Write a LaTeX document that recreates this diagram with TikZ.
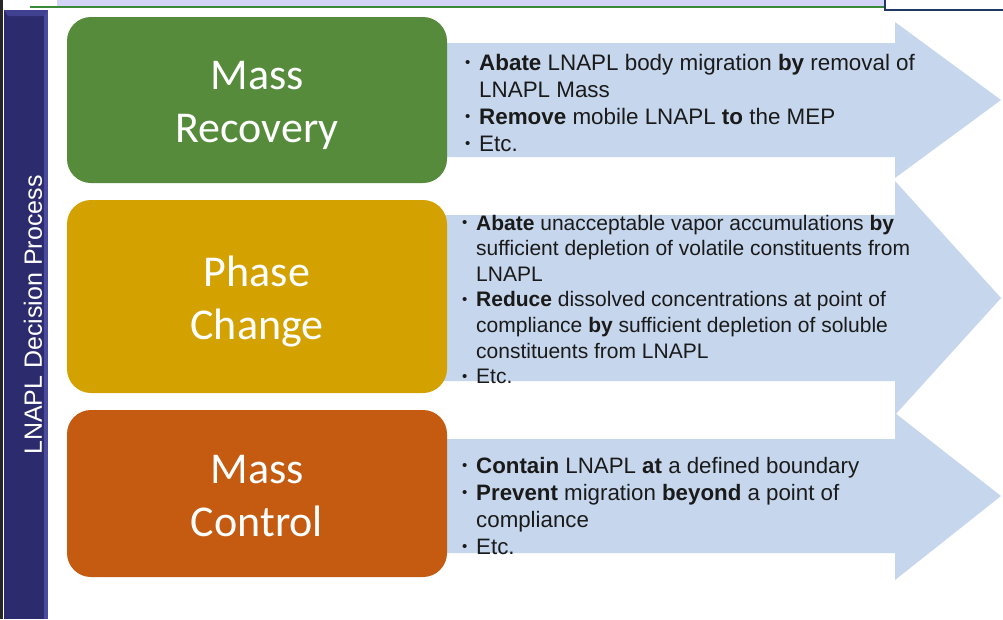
\documentclass[tikz,border=0pt]{standalone}
\usepackage{fontspec}
\setmainfont{Liberation Sans}
\newfontfamily\boxfont{Carlito}
\definecolor{navybar}{HTML}{2B2B6E}
\definecolor{navyedge}{HTML}{4A4AA0}
\definecolor{recgreen}{HTML}{558B3A}
\definecolor{phgold}{HTML}{D4A200}
\definecolor{ctorange}{HTML}{C55A11}
\definecolor{arrblue}{HTML}{C6D6EC}
\definecolor{lavtop}{HTML}{D4D4F8}
\definecolor{topgreen}{HTML}{3A8A3A}
\definecolor{boxnavy}{HTML}{1F3864}
\definecolor{bultext}{HTML}{1A1A1A}
\newcommand\bul{\makebox[14pt][l]{\raisebox{0.2ex}{\fontsize{15}{15}\selectfont\textbullet}}}
\newcommand\ind{\hspace*{14pt}}
\tikzset{
  stage/.style={rounded corners=24pt, minimum width=380pt, inner sep=0pt},
  stagetext/.style={inner sep=0pt, text=white, font=\boxfont\fontsize{44}{53}\selectfont, align=center},
  bullets/.style={anchor=base west, inner sep=0pt, text=bultext},
  arrowshape/.style={fill=arrblue}
}
\begin{document}
\begin{tikzpicture}[x=1pt,y=-1pt]
\useasboundingbox (0,0) rectangle (1003,619);
\fill[white] (0,0) rectangle (1003,619);
% top decoration
\fill[lavtop] (57,0) rectangle (885,5.5);
\draw[topgreen, line width=2pt] (30,7) -- (885,7);
\draw[boxnavy, line width=1.6pt, fill=white] (885,-5) -- (885,10) -- (1010,10) -- (1010,-5) -- cycle;
% left bar
\fill[black!85] (0,0) rectangle (2.5,619);
\fill[navybar] (4,10) rectangle (48,619);
\fill[navyedge] (44,10) rectangle (48,619);
\fill[navyedge!70!navybar] (4,10) -- (48,10) -- (44,16) -- (8,16) -- cycle;
\node[rotate=90, text=white, font=\fontsize{25}{30}\selectfont] (bartitle) at (33,315) {LNAPL Decision Process};
% arrows
\fill[arrowshape] (440,43) -- (895,43) -- (895,22) -- (1001,100) -- (895,178) -- (895,157) -- (440,157) -- cycle;
\fill[arrowshape] (440,215) -- (895,215) -- (895,181) -- (1001,298) -- (895,415) -- (895,381) -- (440,381) -- cycle;
\fill[arrowshape] (440,439) -- (895,439) -- (895,413) -- (1001,496) -- (895,580) -- (895,553) -- (440,553) -- cycle;
% stage boxes
\node[stage, fill=recgreen, minimum height=166pt] (rec) at (257,100) {};
\node[stage, fill=phgold, minimum height=193pt] (pha) at (257,296.5) {};
\node[stage, fill=ctorange, minimum height=167pt] (con) at (257,493.5) {};
\node[stagetext] (rect) at ([yshift=-5pt]rec.center) {Mass\\Recovery};
\node[stagetext] (phat) at ([yshift=-5pt]pha.center) {Phase\\Change};
\node[stagetext] (cont) at ([yshift=-3pt]con.center) {Mass\\Control};
% bullet texts
\node[bullets, font=\fontsize{22.4}{27}\selectfont] (t1) at (465,70) {%
\begin{tabular}[t]{@{}l@{}}
\bul\textbf{Abate} LNAPL body migration \textbf{by} removal of\\
\ind LNAPL Mass\\
\bul\textbf{Remove} mobile LNAPL \textbf{to} the MEP\\
\bul Etc.
\end{tabular}};
\node[bullets, font=\fontsize{21}{25.6}\selectfont] (t2) at (462,230) {%
\begin{tabular}[t]{@{}l@{}}
\bul\textbf{Abate} unacceptable vapor accumulations \textbf{by}\\
\ind sufficient depletion of volatile constituents from\\
\ind LNAPL\\
\bul\textbf{Reduce} dissolved concentrations at point of\\
\ind compliance \textbf{by} sufficient depletion of soluble\\
\ind constituents from LNAPL\\
\bul Etc.
\end{tabular}};
\node[bullets, font=\fontsize{22.3}{27}\selectfont] (t3) at (462,473) {%
\begin{tabular}[t]{@{}l@{}}
\bul\textbf{Contain} LNAPL \textbf{at} a defined boundary\\
\bul\textbf{Prevent} migration \textbf{beyond} a point of\\
\ind compliance\\
\bul Etc.
\end{tabular}};
\end{tikzpicture}
\end{document}
